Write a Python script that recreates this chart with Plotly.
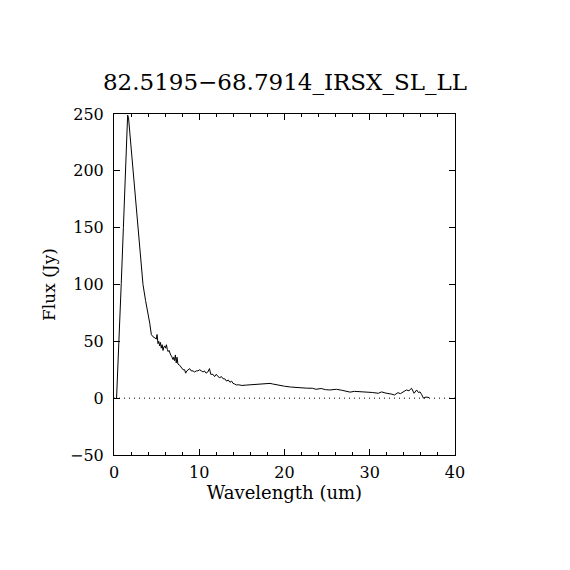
import plotly.graph_objects as go

title_text = "82.5195\u221268.7914_IRSX_SL_LL"
x_label = "Wavelength (um)"
y_label = "Flux (Jy)"

wavelength = [0.30, 0.45, 0.60, 0.85, 1.10, 1.37, 1.60, 1.70, 2.00, 2.23, 2.50, 2.82, 3.10, 3.40, 3.70, 3.99,
              4.19, 4.38, 4.58, 4.80, 4.97, 5.05, 5.16, 5.25, 5.36, 5.45, 5.55, 5.65, 5.75, 5.85, 5.95, 6.05,
              6.15, 6.25, 6.35, 6.45, 6.53, 6.65, 6.75, 6.92, 7.00, 7.10, 7.20, 7.30, 7.39, 7.50, 7.70, 7.90,
              8.10, 8.29, 8.40, 8.55, 8.70, 8.88, 9.05, 9.27, 9.45, 9.65, 9.85, 10.05, 10.25, 10.45, 10.60,
              10.80, 11.00, 11.20, 11.35, 11.60, 11.80, 12.00, 12.20, 12.40, 12.60, 12.80, 13.00, 13.20, 13.40,
              13.60, 13.80, 13.96, 14.15, 14.35, 14.6, 15.0, 15.5, 16.0, 16.7, 17.2, 17.7, 18.3, 18.6, 19.0,
              19.4, 20.0, 20.7, 21.4, 22.0, 22.6, 23.3, 23.7, 24.3, 24.8, 25.3, 25.7, 26.1, 26.7, 27.3, 27.7,
              28.2, 28.8, 29.6, 30.3, 31.0, 31.4, 31.8, 32.3, 32.6, 32.9, 33.3, 33.6, 34.0, 34.3, 34.6, 34.9,
              35.2, 35.5, 35.7, 35.9, 36.1, 36.3, 36.6, 36.95]
flux = [0, 25, 54, 101, 150, 200, 249, 247, 220, 199, 175, 149, 123, 100, 86, 75,
        66, 56, 54, 53, 52, 56, 48, 50, 46, 49, 44, 47, 42, 45, 46, 44,
        47, 43, 41, 42, 40, 38, 37, 34, 36, 33, 38, 31, 36, 30, 29, 27,
        25, 25, 22, 24, 25, 26, 24, 24, 23, 24, 24, 25, 24, 23, 24,
        22, 23, 26, 21, 21, 19, 21, 19, 18, 19, 17, 17, 15, 16,
        14, 15, 13, 12.5, 11.6, 11.8, 11.2, 11.5, 11.8, 12, 12.2, 12.8, 13, 12.5, 11.8,
        11, 10.5, 9.8, 9.3, 9, 8.8, 8.7, 7.8, 8.5, 7.5, 7.2, 7.5, 7.8, 7, 6.3, 5.3,
        6, 5.8, 5.2, 5, 4.3, 5.5, 4.6, 4.3, 3.5, 2.8, 4.8, 4, 5.5, 7.2, 6.5, 8.7,
        4.3, 7.2, 5, 5.5, 3, 0, 1, 0.5]

zero_x = [0, 40]
zero_y = [0, 0]

x_range = [0, 40]
y_range = [-50, 250]

font_family = "DejaVu Serif"

fig = go.Figure()
fig.add_trace(go.Scatter(x=zero_x, y=zero_y, mode="lines",
                         line=dict(color="black", width=1, dash="1px,4px"), hoverinfo="skip"))
fig.add_trace(go.Scatter(x=wavelength, y=flux, mode="lines",
                         line=dict(color="black", width=1)))

axis_common = dict(showgrid=False, zeroline=False, showline=True, linecolor="black", linewidth=1,
                   mirror="allticks", ticks="inside", tickcolor="black", tickwidth=1, ticklen=6,
                   tickfont=dict(family=font_family, size=16, color="black"))

fig.update_layout(
    width=570, height=570,
    paper_bgcolor="white", plot_bgcolor="white",
    showlegend=False,
    margin=dict(l=106, r=123, t=106, b=123),
    title=dict(text=title_text, x=(285 - 8) / 570, xanchor="center", xref="container",
               y=1 - 74 / 570, yanchor="middle", yref="container",
               font=dict(family=font_family, size=23, color="black")),
    xaxis=dict(range=x_range, tickmode="array", tickvals=[0, 10, 20, 30, 40],
               ticklabelstandoff=3,
               minor=dict(dtick=2, ticks="inside", ticklen=3, tickcolor="black", tickwidth=1),
               title=dict(text=x_label, standoff=4, font=dict(family=font_family, size=18, color="black")),
               **axis_common),
    yaxis=dict(range=y_range, tickmode="array", tickvals=[-50, 0, 50, 100, 150, 200, 250],
               ticklabelstandoff=6,
               title=dict(text=y_label, standoff=10, font=dict(family=font_family, size=17, color="black")),
               **axis_common),
)

fig.write_html("out.html")
